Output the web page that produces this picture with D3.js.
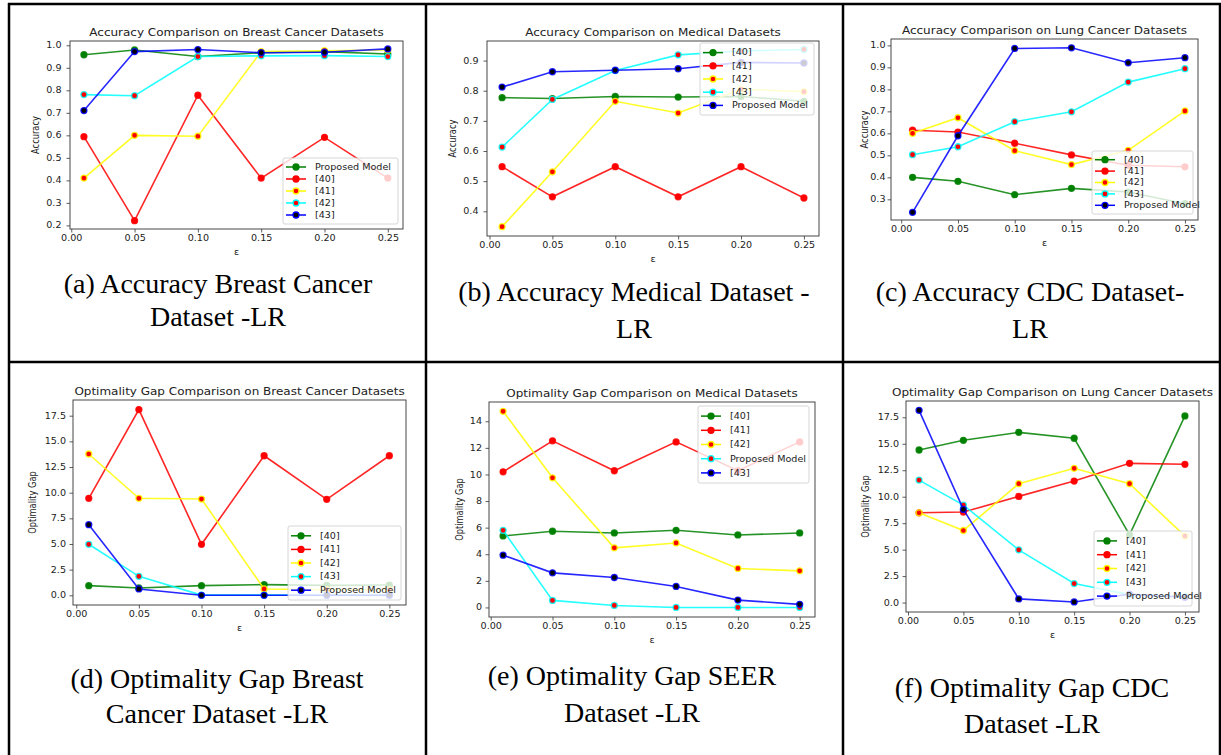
<!DOCTYPE html>
<html>
<head>
<meta charset="utf-8">
<script src="https://cdn.jsdelivr.net/npm/d3@7"></script>
<style>
    body { margin: 0; background: #fff; }
    svg { display: block; }
    .plot-text, .tick text { font-family: "DejaVu Sans", sans-serif; fill: #222; }
    .caption { font-family: "Liberation Serif", "Times New Roman", serif; fill: #000; }
</style>
</head>
<body>
<svg id="chart" width="1221" height="755"></svg>
<script>
const eps = [0.01, 0.05, 0.10, 0.15, 0.20, 0.25];
const xTicks = [0, 0.05, 0.10, 0.15, 0.20, 0.25];

// every panel lists its series in the same colour order: green, red, yellow, cyan, blue
const accBreastLabels = ["Proposed Model", "[40]", "[41]", "[42]", "[43]"];
const accBreastValues = [
    [0.958, 0.979, 0.950, 0.967, 0.972, 0.961],
    [0.594, 0.221, 0.778, 0.410, 0.591, 0.410],
    [0.410, 0.600, 0.596, 0.972, 0.976, 0.979],
    [0.781, 0.776, 0.950, 0.953, 0.954, 0.950],
    [0.710, 0.972, 0.981, 0.967, 0.969, 0.984]
];
const accBreastTicks = [0.2, 0.3, 0.4, 0.5, 0.6, 0.7, 0.8, 0.9, 1.0];

const accMedicalLabels = ["[40]", "[41]", "[42]", "[43]", "Proposed Model"];
const accMedicalValues = [
    [0.777, 0.774, 0.781, 0.779, 0.781, 0.765],
    [0.548, 0.448, 0.548, 0.448, 0.548, 0.444],
    [0.349, 0.531, 0.765, 0.726, 0.805, 0.797],
    [0.613, 0.771, 0.867, 0.919, 0.932, 0.937],
    [0.812, 0.863, 0.868, 0.873, 0.894, 0.892]
];
const accMedicalTicks = [0.4, 0.5, 0.6, 0.7, 0.8, 0.9];

const accLungLabels = ["[40]", "[41]", "[42]", "[43]", "Proposed Model"];
const accLungValues = [
    [0.400, 0.382, 0.321, 0.350, 0.333, 0.280],
    [0.614, 0.606, 0.555, 0.502, 0.455, 0.448],
    [0.600, 0.671, 0.521, 0.458, 0.523, 0.702],
    [0.503, 0.539, 0.653, 0.698, 0.833, 0.894],
    [0.241, 0.589, 0.986, 0.989, 0.921, 0.944]
];
const accLungTicks = [0.3, 0.4, 0.5, 0.6, 0.7, 0.8, 0.9, 1.0];

const gapBreastLabels = ["[40]", "[41]", "[42]", "[43]", "Proposed Model"];
const gapBreastValues = [
    [0.94, 0.71, 0.94, 1.04, 0.97, 1.00],
    [9.45, 18.10, 4.97, 13.60, 9.35, 13.60],
    [13.77, 9.45, 9.38, 0.62, 0.55, 0.55],
    [4.97, 1.85, 0.02, 0.02, 0.02, 0.02],
    [6.88, 0.62, 0.00, 0.00, 0.00, 0.00]
];
const gapBreastTicks = [0, 2.5, 5, 7.5, 10, 12.5, 15, 17.5];

const gapMedicalLabels = ["[40]", "[41]", "[42]", "Proposed Model", "[43]"];
const gapMedicalValues = [
    [5.38, 5.73, 5.60, 5.80, 5.45, 5.60],
    [10.20, 12.53, 10.28, 12.45, 10.28, 12.45],
    [14.75, 9.75, 4.48, 4.85, 2.93, 2.75],
    [5.80, 0.53, 0.15, 0.00, 0.00, 0.00],
    [3.93, 2.60, 2.25, 1.58, 0.55, 0.23]
];
const gapMedicalTicks = [0, 2, 4, 6, 8, 10, 12, 14];

const gapLungLabels = ["[40]", "[41]", "[42]", "[43]", "Proposed Model"];
const gapLungValues = [
    [14.41, 15.33, 16.08, 15.52, 6.40, 17.63],
    [8.48, 8.55, 10.03, 11.48, 13.15, 13.06],
    [8.48, 6.81, 11.23, 12.68, 11.23, 6.28],
    [11.57, 9.21, 4.98, 1.80, 0.75, 0.55],
    [18.16, 8.80, 0.35, 0.06, 0.80, 0.50]
];
const gapLungTicks = [0, 2.5, 5, 7.5, 10, 12.5, 15, 17.5];

const lineColors = ["#008000", "#ff0000", "#ffff00", "#00ffff", "#0000ff"];
const faceColors = ["#008000", "#ff0000", "#ff0000", "#ff0000", "#000000"];

// the source plots are stretched sideways a little, so horizontal text is too
const STRETCH = 1.2;
const FONT_PX = 8;
const TITLE_PX = 10;
const CAPTION_PX = 28;

const panels = [
    {
        title: "Accuracy Comparison on Breast Cancer Datasets", yLabel: "Accuracy",
        labels: accBreastLabels, values: accBreastValues, yTicks: accBreastTicks, yFormat: ".1f",
        box: [70, 41, 403, 229], xDomain: [-0.001, 0.262], yDomain: [0.184, 1.019],
        yLabelX: 36, tickGap: 8.5, legend: [283, 158, 115, 66],
        caption: ["(a) Accuracy Breast Cancer", "Dataset -LR"], captionX: 218, captionY: [293, 326]
    },
    {
        title: "Accuracy Comparison on Medical Datasets", yLabel: "Accuracy",
        labels: accMedicalLabels, values: accMedicalValues, yTicks: accMedicalTicks, yFormat: ".1f",
        box: [487, 41, 819, 236], xDomain: [-0.002, 0.262], yDomain: [0.318, 0.965],
        yLabelX: 453, tickGap: 8.5, legend: [700, 43, 114, 72],
        caption: ["(b) Accuracy Medical Dataset -", "LR"], captionX: 634, captionY: [301, 338]
    },
    {
        title: "Accuracy Comparison on Lung Cancer Datasets", yLabel: "Accuracy",
        labels: accLungLabels, values: accLungValues, yTicks: accLungTicks, yFormat: ".1f",
        box: [891, 39, 1198, 220], xDomain: [-0.009, 0.2615], yDomain: [0.206, 1.029],
        yLabelX: 865, tickGap: 5.5, legend: [1092, 151, 101, 63],
        caption: ["(c) Accuracy CDC Dataset-", "LR"], captionX: 1030, captionY: [301, 338]
    },
    {
        title: "Optimality Gap Comparison on Breast Cancer Datasets", yLabel: "Optimality Gap",
        labels: gapBreastLabels, values: gapBreastValues, yTicks: gapBreastTicks, yFormat: ".1f",
        box: [73, 400, 406, 605], xDomain: [-0.0026, 0.2633], yDomain: [-0.945, 19.03],
        yLabelX: 33, tickGap: 7, legend: [288, 526, 113, 74],
        caption: ["(d) Optimality Gap Breast", "Cancer Dataset -LR"], captionX: 217, captionY: [688, 723]
    },
    {
        title: "Optimality Gap Comparison on Medical Datasets", yLabel: "Optimality Gap",
        labels: gapMedicalLabels, values: gapMedicalValues, yTicks: gapMedicalTicks, yFormat: "d",
        box: [489, 402, 815, 617], xDomain: [-0.0014, 0.2624], yDomain: [-0.72, 15.45],
        yLabelX: 460, tickGap: 7, legend: [698, 406, 111, 77],
        caption: ["(e) Optimality Gap SEER", "Dataset -LR"], captionX: 632, captionY: [685, 722]
    },
    {
        title: "Optimality Gap Comparison on Lung Cancer Datasets", yLabel: "Optimality Gap",
        labels: gapLungLabels, values: gapLungValues, yTicks: gapLungTicks, yFormat: ".1f",
        box: [906, 401, 1199, 612], xDomain: [-0.0018, 0.2627], yDomain: [-0.889, 19.04],
        yLabelX: 866, tickGap: 7, legend: [1094, 531, 98, 75],
        caption: ["(f) Optimality Gap CDC", "Dataset -LR"], captionX: 1032, captionY: [697, 733]
    }
];

const svg = d3.select("#chart");
svg.append("rect").attr("width", 1221).attr("height", 755).attr("fill", "#fff");

function drawPanel(p, idx) {
    const [left, top, right, bottom] = p.box;
    const x = d3.scaleLinear().domain(p.xDomain).range([left, right]);
    const y = d3.scaleLinear().domain(p.yDomain).range([bottom, top]);
    const g = svg.append("g").attr("class", "panel");

    g.append("clipPath").attr("id", `clip${idx}`)
        .append("rect")
        .attr("x", left).attr("y", top)
        .attr("width", right - left).attr("height", bottom - top);

    const xAxis = g.append("g")
        .attr("transform", `translate(0,${bottom})`)
        .call(d3.axisBottom(x).tickValues(xTicks).tickFormat(d3.format(".2f")).tickSize(3.5).tickPadding(3));
    const yAxis = g.append("g")
        .attr("transform", `translate(${left},0)`)
        .call(d3.axisLeft(y).tickValues(p.yTicks).tickFormat(d3.format(p.yFormat)).tickSize(3.5));

    [xAxis, yAxis].forEach(ax => {
        ax.select(".domain").remove();
        ax.selectAll(".tick line").attr("stroke", "#333").attr("stroke-width", 0.8);
        ax.selectAll(".tick text").attr("font-size", FONT_PX).attr("transform", `scale(${STRETCH},1)`);
    });
    yAxis.selectAll(".tick text").attr("x", -p.tickGap / STRETCH);

    const line = d3.line().x((d, i) => x(eps[i])).y(d => y(d));
    const plot = g.append("g").attr("clip-path", `url(#clip${idx})`);

    p.values.forEach((series, s) => {
        plot.append("path")
            .datum(series)
            .attr("d", line)
            .attr("fill", "none")
            .attr("stroke", lineColors[s])
            .attr("stroke-opacity", 0.85)
            .attr("stroke-width", 1.6);
        plot.selectAll(null)
            .data(series)
            .enter().append("circle")
            .attr("cx", (d, i) => x(eps[i]))
            .attr("cy", d => y(d))
            .attr("r", 3)
            .attr("fill", faceColors[s])
            .attr("stroke", lineColors[s])
            .attr("stroke-opacity", 0.85)
            .attr("stroke-width", 1.3);
    });

    g.append("rect")
        .attr("x", left).attr("y", top)
        .attr("width", right - left).attr("height", bottom - top)
        .attr("fill", "none").attr("stroke", "#333").attr("stroke-width", 0.9);

    g.append("text")
        .attr("class", "plot-text")
        .attr("transform", `translate(${(left + right) / 2},${top - 5}) scale(${STRETCH},1)`)
        .attr("text-anchor", "middle")
        .attr("font-size", TITLE_PX)
        .text(p.title);

    g.append("text")
        .attr("class", "plot-text")
        .attr("transform", `translate(${(left + right) / 2},${bottom + 25.5}) scale(${STRETCH},1)`)
        .attr("text-anchor", "middle")
        .attr("font-size", FONT_PX)
        .text("ε");

    g.append("text")
        .attr("class", "plot-text")
        .attr("transform", `translate(${p.yLabelX},${(top + bottom) / 2}) rotate(-90) scale(1,${STRETCH})`)
        .attr("text-anchor", "middle")
        .attr("dy", "0.35em")
        .attr("font-size", FONT_PX + 0.3)
        .text(p.yLabel);

    // legend, matplotlib style: translucent white frame
    const [lx, ly, lw, lh] = p.legend;
    const leg = g.append("g");
    leg.append("rect")
        .attr("x", lx).attr("y", ly).attr("width", lw).attr("height", lh)
        .attr("rx", 2).attr("ry", 2)
        .attr("fill", "#fff").attr("fill-opacity", 0.8)
        .attr("stroke", "#ccc").attr("stroke-width", 0.8);
    const rowH = (lh - 6) / p.labels.length;
    p.labels.forEach((label, s) => {
        const ry = ly + 3 + rowH * (s + 0.5);
        leg.append("line")
            .attr("x1", lx + 3).attr("x2", lx + 23)
            .attr("y1", ry).attr("y2", ry)
            .attr("stroke", lineColors[s]).attr("stroke-width", 1.5);
        leg.append("circle")
            .attr("cx", lx + 13).attr("cy", ry).attr("r", 3)
            .attr("fill", faceColors[s])
            .attr("stroke", lineColors[s]).attr("stroke-width", 1.3);
        leg.append("text")
            .attr("class", "plot-text")
            .attr("transform", `translate(${lx + 32},${ry}) scale(${STRETCH},1)`)
            .attr("dy", "0.35em")
            .attr("font-size", FONT_PX)
            .text(label);
    });

    p.caption.forEach((txt, i) => {
        svg.append("text")
            .attr("class", "caption")
            .attr("x", p.captionX)
            .attr("y", p.captionY[i])
            .attr("text-anchor", "middle")
            .attr("font-size", CAPTION_PX)
            .text(txt);
    });
}

panels.forEach(drawPanel);

// table rules around the six cells
const vRules = [9, 426, 843, 1220];
const hRules = [4, 362];
svg.selectAll(".vrule")
    .data(vRules)
    .enter().append("line")
    .attr("x1", d => d).attr("x2", d => d)
    .attr("y1", 3).attr("y2", 755)
    .attr("stroke", "#000").attr("stroke-width", 2.5);
svg.selectAll(".hrule")
    .data(hRules)
    .enter().append("line")
    .attr("x1", 8).attr("x2", 1221)
    .attr("y1", d => d).attr("y2", d => d)
    .attr("stroke", "#000").attr("stroke-width", 2.5);
</script>
</body>
</html>
